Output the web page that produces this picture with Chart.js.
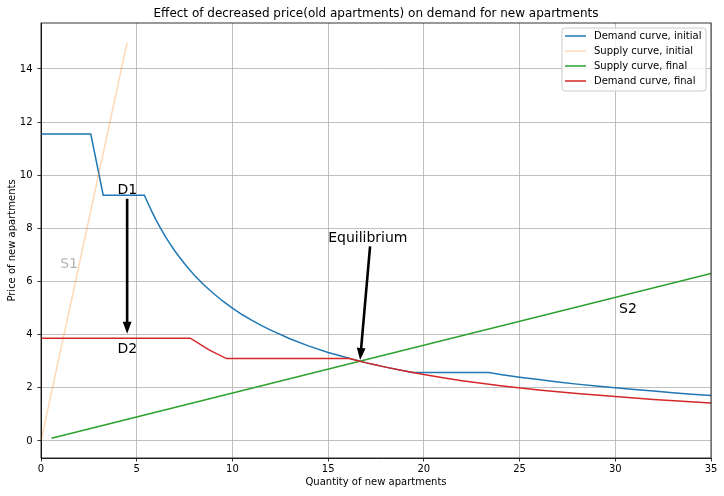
<!DOCTYPE html>
<html>
<head>
<meta charset="utf-8">
<script src="https://cdn.jsdelivr.net/npm/chart.js@4.4.1/dist/chart.umd.min.js"></script>
<style>
  html, body { margin: 0; padding: 0; background: #fff; }
</style>
</head>
<body>
<canvas id="chart" width="724" height="496"></canvas>
<script>
// points (quantity, price)
const demandInitX = [0, 2.6, 3.25, 5.4, 5.6, 5.8, 6, 6.25, 6.5, 6.75, 7, 7.5, 8, 8.5, 9, 9.5, 10, 10.5, 11, 11.5, 12, 13, 14, 15, 16, 17, 18, 19.4, 23.4, 24, 25, 26, 27, 28, 29, 30, 31, 32, 33, 34, 35];
const demandInitY = [11.55, 11.55, 9.25, 9.25, 8.93, 8.62, 8.33, 8.0, 7.69, 7.41, 7.14, 6.67, 6.25, 5.88, 5.56, 5.26, 5.0, 4.76, 4.55, 4.35, 4.17, 3.85, 3.57, 3.33, 3.13, 2.94, 2.78, 2.58, 2.58, 2.5, 2.4, 2.31, 2.22, 2.14, 2.07, 2.0, 1.94, 1.88, 1.82, 1.76, 1.71];
const supplyInitX = [0, 4.5];
const supplyInitY = [0, 15];
const supplyFinalX = [0.55, 35];
const supplyFinalY = [0.1, 6.3];
const demandFinalX = [0, 7.8, 8.8, 9.7, 16.1, 16.5, 17, 17.5, 18, 19, 20, 21, 22, 23, 24, 26, 28, 30, 32, 35];
const demandFinalY = [3.87, 3.87, 3.42, 3.1, 3.1, 3.03, 2.94, 2.86, 2.78, 2.63, 2.5, 2.38, 2.27, 2.17, 2.08, 1.92, 1.79, 1.67, 1.56, 1.43];

const seriesNames = ['Demand curve, initial', 'Supply curve, initial', 'Supply curve, final', 'Demand curve, final'];
const xTicks = [0, 5, 10, 15, 20, 25, 30, 35];
const yTicks = [0, 2, 4, 6, 8, 10, 12, 14];

// text labels and arrows, in data units
const notes = [
  { text: 'D1', x: 4, y: 9.3, color: '#000' },
  { text: 'D2', x: 4, y: 3.3, color: '#000' },
  { text: 'Equilibrium', x: 15, y: 7.5, color: '#000' },
  { text: 'S1', x: 1, y: 6.5, color: 'rgba(0,0,0,0.3)' },
  { text: 'S2', x: 30.2, y: 4.8, color: '#000' }
];
const arrows = [
  { from: [4.5, 9.12], to: [4.5, 4.04] },
  { from: [17.19, 7.32], to: [16.67, 3.05] }
];

const FONT = "'DejaVu Sans', sans-serif";

function pts(xs, ys) {
  return xs.map((x, i) => ({ x: x, y: ys[i] }));
}

function line(label, xs, ys, color, order) {
  return {
    label: label,
    data: pts(xs, ys),
    showLine: true,
    borderColor: color,
    backgroundColor: color,
    borderWidth: 1.5,
    pointRadius: 0,
    tension: 0,
    fill: false,
    order: order
  };
}

const extras = {
  id: 'extras',
  afterDatasetsDraw(chart) {
    const ctx = chart.ctx;
    const xs = chart.scales.x, ys = chart.scales.y;
    const a = chart.chartArea;

    // spines on all four sides
    ctx.save();
    ctx.strokeStyle = '#000';
    ctx.lineWidth = 0.8;
    ctx.strokeRect(a.left, a.top, a.right - a.left, a.bottom - a.top);

    // arrows
    ctx.fillStyle = '#000';
    arrows.forEach(ar => {
      const x1 = xs.getPixelForValue(ar.from[0]), y1 = ys.getPixelForValue(ar.from[1]);
      const x2 = xs.getPixelForValue(ar.to[0]), y2 = ys.getPixelForValue(ar.to[1]);
      const ang = Math.atan2(y2 - y1, x2 - x1);
      const len = Math.hypot(x2 - x1, y2 - y1);
      const headL = 12, headW = 4.4, shaftW = 1.3;
      ctx.save();
      ctx.translate(x1, y1);
      ctx.rotate(ang);
      ctx.beginPath();
      ctx.moveTo(0, -shaftW);
      ctx.lineTo(len - headL, -shaftW);
      ctx.lineTo(len - headL, -headW);
      ctx.lineTo(len, 0);
      ctx.lineTo(len - headL, headW);
      ctx.lineTo(len - headL, shaftW);
      ctx.lineTo(0, shaftW);
      ctx.closePath();
      ctx.fill();
      ctx.restore();
    });

    // annotation texts
    ctx.font = '14px ' + FONT;
    ctx.textAlign = 'left';
    ctx.textBaseline = 'alphabetic';
    notes.forEach(n => {
      ctx.fillStyle = n.color;
      ctx.fillText(n.text, xs.getPixelForValue(n.x), ys.getPixelForValue(n.y));
    });

    // legend box, upper right
    const bx = a.right - 149, by = a.top + 5, bw = 144, bh = 63;
    ctx.fillStyle = 'rgba(255,255,255,0.8)';
    ctx.strokeStyle = '#cccccc';
    ctx.lineWidth = 1;
    ctx.beginPath();
    ctx.roundRect(bx, by, bw, bh, 3);
    ctx.fill();
    ctx.stroke();
    ctx.font = '10px ' + FONT;
    ctx.textBaseline = 'middle';
    chart.data.datasets.forEach((ds, i) => {
      const cy = by + 8 + i * 15;
      ctx.strokeStyle = ds.borderColor;
      ctx.lineWidth = 1.5;
      ctx.beginPath();
      ctx.moveTo(bx + 3, cy);
      ctx.lineTo(bx + 24, cy);
      ctx.stroke();
      ctx.fillStyle = '#000';
      ctx.fillText(ds.label, bx + 32, cy);
    });
    ctx.restore();
  },
  afterDraw(chart) {
    const ctx = chart.ctx;
    const a = chart.chartArea;
    ctx.save();
    ctx.font = '12px ' + FONT;
    ctx.fillStyle = '#000';
    ctx.textAlign = 'center';
    ctx.textBaseline = 'alphabetic';
    ctx.fillText('Effect of decreased price(old apartments) on demand for new apartments', (a.left + a.right) / 2, 17);
    ctx.restore();
  }
};

new Chart(document.getElementById('chart'), {
  type: 'scatter',
  data: {
    datasets: [
      line(seriesNames[0], demandInitX, demandInitY, '#1f77b4', 4),
      line(seriesNames[1], supplyInitX, supplyInitY, 'rgba(255,127,14,0.3)', 3),
      line(seriesNames[2], supplyFinalX, supplyFinalY, '#2ca02c', 2),
      line(seriesNames[3], demandFinalX, demandFinalY, '#d62728', 1)
    ]
  },
  options: {
    responsive: false,
    animation: false,
    layout: { padding: { top: 23, right: 13, left: 0, bottom: 0 } },
    plugins: {
      legend: { display: false },
      title: { display: false },
      tooltip: { enabled: false }
    },
    scales: {
      x: {
        type: 'linear',
        min: 0,
        max: 35,
        afterBuildTicks: s => { s.ticks = xTicks.map(v => ({ value: v })); },
        afterFit: s => { s.height = 38; },
        grid: { color: '#b0b0b0', lineWidth: 0.8, tickLength: 3.5, tickColor: '#000', tickWidth: 0.8 },
        border: { color: '#000', width: 0.8 },
        ticks: { color: '#000', font: { family: FONT, size: 10 }, padding: 2, maxRotation: 0, autoSkip: false },
        title: { display: true, text: 'Quantity of new apartments', color: '#000', font: { family: FONT, size: 10 }, padding: { top: 0, bottom: 8 } }
      },
      y: {
        type: 'linear',
        min: -0.64,
        max: 15.73,
        afterBuildTicks: s => { s.ticks = yTicks.map(v => ({ value: v })); },
        afterFit: s => { s.width = 41; },
        grid: { color: '#b0b0b0', lineWidth: 0.8, tickLength: 3.5, tickColor: '#000', tickWidth: 0.8 },
        border: { color: '#000', width: 0.8 },
        ticks: { color: '#000', font: { family: FONT, size: 10 }, padding: 5, autoSkip: false },
        title: { display: true, text: 'Price of new apartments', color: '#000', font: { family: FONT, size: 10 }, padding: { top: 6, bottom: 0 } }
      }
    }
  },
  plugins: [extras]
});
</script>
</body>
</html>
